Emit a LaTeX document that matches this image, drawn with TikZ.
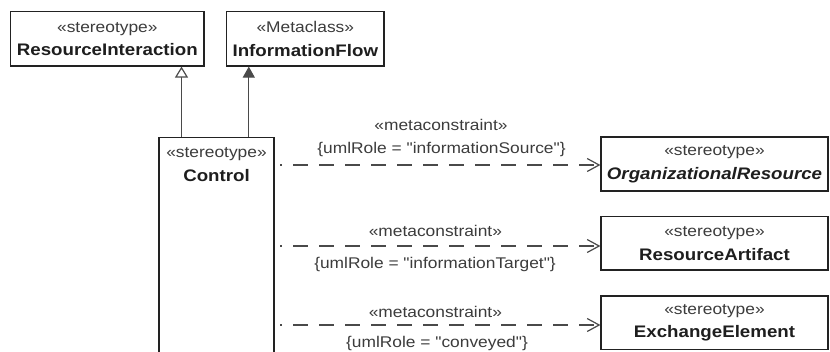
\documentclass[tikz,border=0pt]{standalone}
\usepackage{fontspec}
\setmainfont[FakeStretch=1.12, Ligatures=TeXOff]{Liberation Sans}
\usetikzlibrary{arrows.meta}
\definecolor{boxline}{HTML}{222222}
\definecolor{txtdark}{HTML}{1E1E1E}
\definecolor{txtgray}{HTML}{3C3C3C}
\definecolor{linegray}{HTML}{4A4A4A}
\newcommand{\nm}[1]{{\color{txtdark}\fontsize{16.7}{23.5}\selectfont\bfseries #1}}
\tikzset{
  umlbox/.style={draw=boxline, line width=1.2pt, fill=white, inner sep=0pt, align=center,
    font=\fontsize{15.5}{23.5}\selectfont, text=txtgray},
  boxtext/.style={inner sep=0pt, align=center, font=\fontsize{15.5}{23.5}\selectfont, text=txtgray},
  lbl/.style={inner sep=0pt, font=\fontsize{15.5}{18}\selectfont, text=txtgray},
  dep/.style={draw=linegray, line width=1.2pt, dash pattern=on 15pt off 11pt, dash phase=13pt,
    -{Straight Barb[length=12pt,width=13pt,line width=1.2pt]}},
  genopen/.style={draw=linegray, line width=1.2pt, -{Triangle[open,length=11pt,width=13pt,fill=white]}},
  genfill/.style={draw=linegray, line width=1.2pt, -{Triangle[length=11pt,width=12pt]}},
}
\begin{document}
\begin{tikzpicture}[x=1pt,y=-1pt]
\useasboundingbox (0,0) rectangle (830,351);
\fill[white] (0,0) rectangle (830,351);
\clip (0,0) rectangle (830,351);

% top boxes
\node[umlbox, minimum width=193.4pt, minimum height=54.3pt] (ri) at (107.3,38.85)
  {«stereotype»\\\nm{ResourceInteraction}};
\node[umlbox, minimum width=157.4pt, minimum height=54.3pt] (inf) at (305.3,38.85)
  {«Metaclass»\\\nm{InformationFlow}};

% Control (open at the bottom of the view)
\node[umlbox, minimum width=115pt, minimum height=240pt, anchor=north] (ctl) at (216.5,136.5) {};
\node[boxtext] (ctlt) at (216.5,164.8) {«stereotype»\\\nm{Control}};

% right boxes
\node[umlbox, minimum width=227pt, minimum height=54pt] (or) at (714.5,164)
  {«stereotype»\\\nm{\itshape OrganizationalResource}};
\node[umlbox, minimum width=227pt, minimum height=53.3pt] (ra) at (714.5,243.35)
  {«stereotype»\\\nm{ResourceArtifact}};
\node[umlbox, minimum width=227pt, minimum height=53.5pt] (ee) at (714.5,322.75)
  {«stereotype»\\\nm{ExchangeElement}};

% generalizations
\draw[genopen] ([xshift=-35pt]ctl.north) -- ([xshift=-35pt]ctl.north |- ri.south);
\draw[genfill] ([xshift=32.3pt]ctl.north) -- ([xshift=32.3pt]ctl.north |- inf.south);

% metaconstraint dependencies
\coordinate (s1) at (280,165);
\coordinate (s2) at (280,246);
\coordinate (s3) at (280,325);
\draw[dep] (s1) -- (s1 -| or.west);
\draw[dep] (s2) -- (s2 -| ra.west);
\draw[dep] (s3) -- (s3 -| ee.west);

% labels
\node[lbl] (m1) at (441,125) {«metaconstraint»};
\node[lbl] (r1) at (441.5,149.5) {\{umlRole = "informationSource"\}};
\node[lbl] (m2) at (435.4,231) {«metaconstraint»};
\node[lbl] (r2) at (435,264) {\{umlRole = "informationTarget"\}};
\node[lbl] (m3) at (435.4,312) {«metaconstraint»};
\node[lbl] (r3) at (437,343) {\{umlRole = "conveyed"\}};
\end{tikzpicture}
\end{document}
